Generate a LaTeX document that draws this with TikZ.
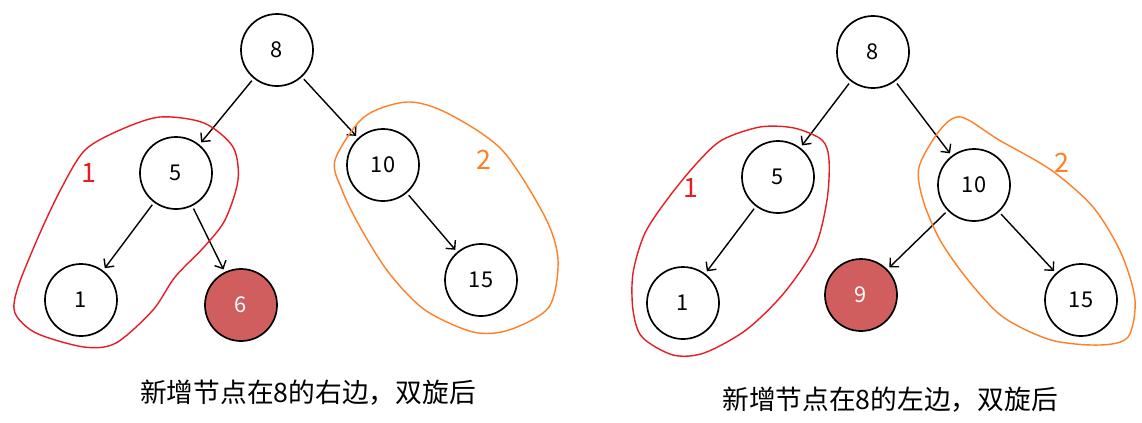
\documentclass[tikz,border=0pt]{standalone}
\usepackage{fontspec}
\setmainfont{Noto Sans CJK SC}
\usetikzlibrary{arrows.meta}
\definecolor{newred}{RGB}{208,94,94}
\definecolor{penred}{RGB}{232,28,36}
\definecolor{penorange}{RGB}{255,127,39}

\begin{document}
\begin{tikzpicture}[x=0.025cm, y=-0.025cm, font=\fontsize{15.5}{18}\selectfont,
  tree/.style={circle, draw, line width=1.2pt, minimum size=1.8cm, inner sep=0pt},
  newnode/.style={tree, fill=newred, text=white},
  edge/.style={-{Straight Barb[length=4.5pt,width=9pt]}, line width=1pt, shorten <=2pt, shorten >=2pt},
  pen/.style={line width=1pt},
  mark1/.style={text=penred, font=\fontsize{19}{21}\selectfont},
  mark2/.style={text=penorange, font=\fontsize{19}{21}\selectfont},
  caption/.style={font=\fontsize{19}{22}\selectfont}]
  \useasboundingbox (0,0) rectangle (1142,422);
  % left: new node 6 on the right of 8
  \foreach \n/\x/\y in {8/277/50, 5/176/173, 1/81/300, 10/383/165, 15/481/280}
    \node[tree] (l\n) at (\x,\y) {\n};
  \node[newnode] (l6) at (241,305) {6};
  \foreach \a/\b in {8/5, 8/10, 5/1, 5/6, 10/15}
    \draw[edge] (l\a) -- (l\b);
  \draw[pen, penred] plot[smooth cycle] coordinates {(85,150) (120,130) (160,117) (204,123) (233,147) (238,180) (225,220) (204,247) (175,277) (153,310) (116,343) (84,347) (36,333) (15,313) (18,287) (40,233) (62,187)};
  \draw[pen, penorange] plot[smooth cycle] coordinates {(335,160) (364,117) (407,102) (447,113) (502,150) (545,217) (558,260) (549,307) (509,330) (473,332) (425,310) (389,273) (360,227) (342,190)};
  \node[mark1] (lg1) at (89,173) {1};
  \node[mark2] (lg2) at (484,160) {2};
  \node[caption] (lcap) at (308,393) {新增节点在8的右边，双旋后};
  % right: new node 9 on the left of 8
  \foreach \n/\x/\y in {8/873/52, 5/778/177, 1/683/303, 10/974/185, 15/1081/300}
    \node[tree] (r\n) at (\x,\y) {\n};
  \node[newnode] (r9) at (861,295) {9};
  \foreach \a/\b in {8/5, 8/10, 5/1, 10/9, 10/15}
    \draw[edge] (r\a) -- (r\b);
  \draw[pen, penred] plot[smooth cycle] coordinates {(633,273) (645,233) (669,197) (697,163) (722,140) (760,127) (794,128) (822,140) (829,160) (827,200) (815,247) (784,293) (746,330) (704,353) (673,355) (642,337) (633,310)};
  \draw[pen, penorange] plot[smooth cycle] coordinates {(919,167) (940,130) (961,117) (999,140) (1051,170) (1093,207) (1121,253) (1135,300) (1128,337) (1100,345) (1051,340) (1003,317) (968,280) (940,240) (923,200)};
  \node[mark1] (rg1) at (691,188) {1};
  \node[mark2] (rg2) at (1062,163) {2};
  \node[caption] (rcap) at (890,400) {新增节点在8的左边，双旋后};
\end{tikzpicture}
\end{document}
